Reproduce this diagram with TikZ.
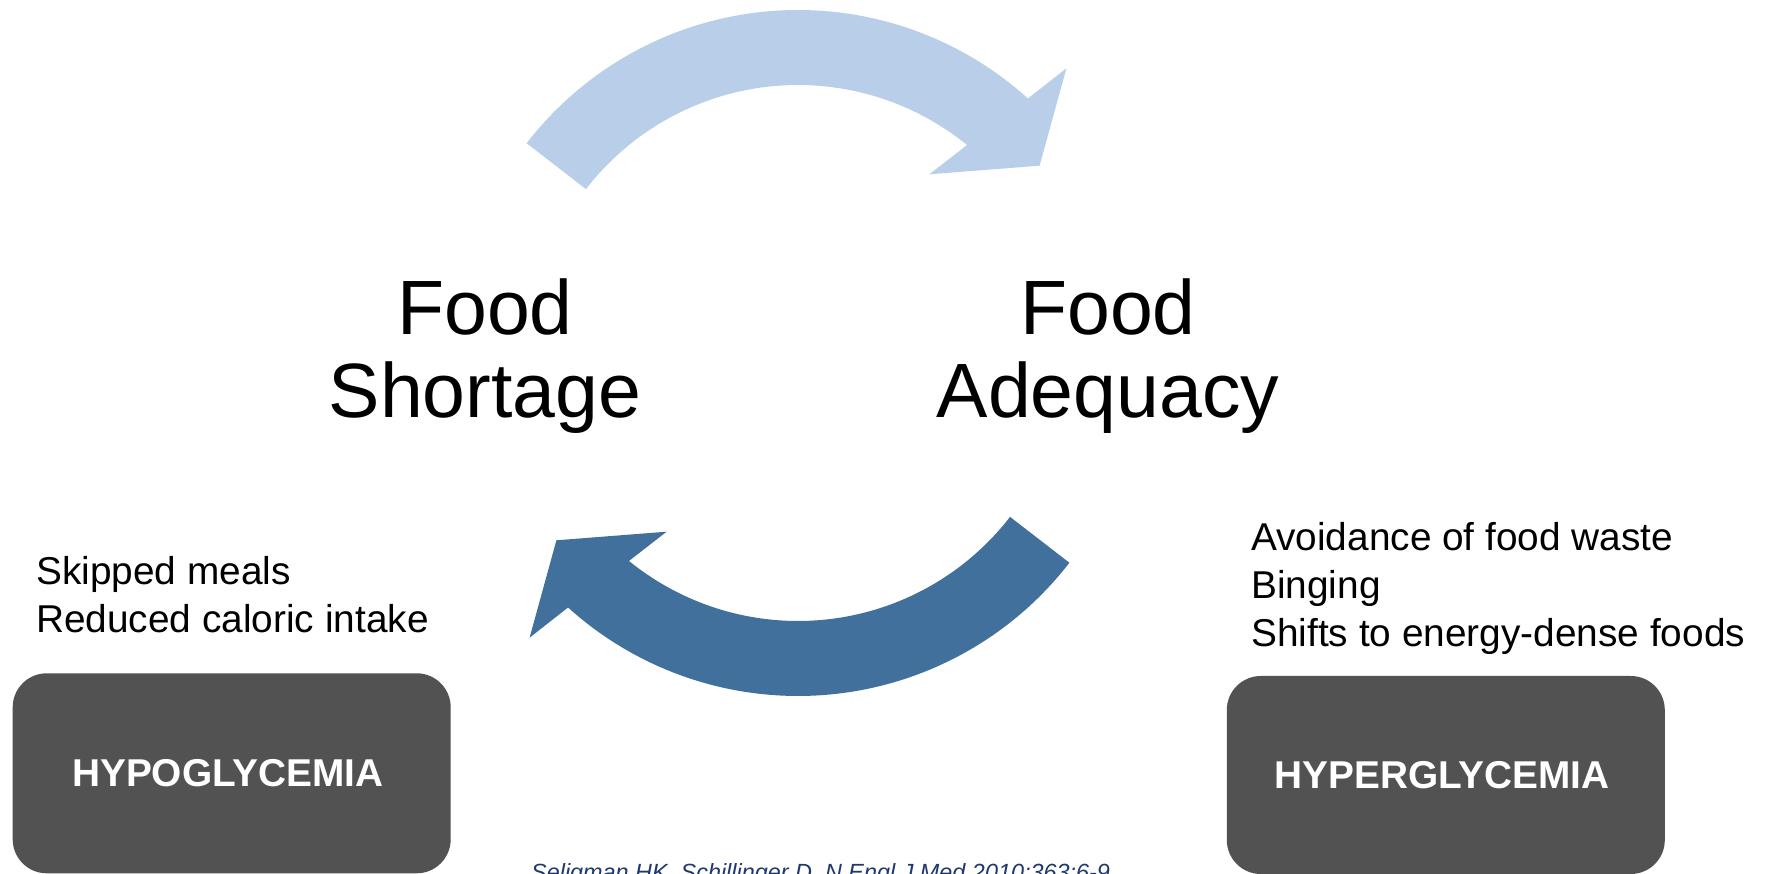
\documentclass[tikz,border=0pt]{standalone}
\usepackage{fontspec}
\setmainfont{Liberation Sans}
\definecolor{arrowlight}{RGB}{185,206,232}
\definecolor{arrowdark}{RGB}{66,112,157}
\definecolor{boxgray}{RGB}{82,82,82}
\definecolor{citeblue}{RGB}{31,56,110}
\tikzset{
  lightarrow/.style={fill=arrowlight, draw=none},
  darkarrow/.style={fill=arrowdark, draw=none},
  gbox/.style={fill=boxgray, draw=none, rounded corners=34pt, text=white,
    font=\fontsize{38.8}{44}\selectfont\bfseries, inner sep=0pt},
  biglabel/.style={font=\fontsize{77}{83}\selectfont, align=center, anchor=base, inner sep=0pt},
  listtext/.style={font=\fontsize{38.8}{48.3}\selectfont, align=left, anchor=base west, inner sep=0pt},
  citetext/.style={font=\fontsize{23.4}{28}\selectfont\itshape, text=citeblue, anchor=base west, inner sep=0pt}
}
% curved block arrow, drawn about its circle centre (0,0)
\newcommand{\cyclearrow}[1]{%
  \fill[#1] (142.3:343) arc[start angle=142.3, end angle=47.9, radius=343pt]
    -- (268.4,284.7) -- (241.6,187.3) -- (131.4,178.7) -- (50.9:268)
    arc[start angle=50.9, end angle=142.3, radius=268pt] -- cycle;}
\begin{document}
\begin{tikzpicture}[x=1pt,y=1pt]
\useasboundingbox (0,0) rectangle (1771,874);
\clip (0,0) rectangle (1771,874);
% top arrow (shortage -> adequacy)
\begin{scope}[shift={(798,521)}]
\cyclearrow{lightarrow}
\end{scope}
% bottom arrow (adequacy -> shortage)
\begin{scope}[shift={(798,521)}, rotate=180]
\cyclearrow{darkarrow}
\end{scope}
% main labels (anchored at the baseline of the last line)
\node[biglabel] (shortage) at (485,456) {Food\\Shortage};
\node[biglabel] (adequacy) at (1108,456) {Food\\Adequacy};
% lists
\node[listtext] (lowlist) at (36,241) {Skipped meals\\Reduced caloric intake};
\node[listtext] (highlist) at (1251,227.3) {Avoidance of food waste\\Binging\\Shifts to energy-dense foods};
% boxes
\node[gbox, minimum width=438pt, minimum height=200pt] (hypo) at (231.7,100.7) {HYPOGLYCEMIA\hspace*{8pt}};
\node[gbox, minimum width=438pt, minimum height=198pt] (hyper) at (1445.8,99) {HYPERGLYCEMIA\hspace*{8pt}};
% citation
\node[citetext] (cite) at (531,-7) {Seligman HK, Schillinger D. N Engl J Med 2010;363:6-9.};
\end{tikzpicture}
\end{document}
